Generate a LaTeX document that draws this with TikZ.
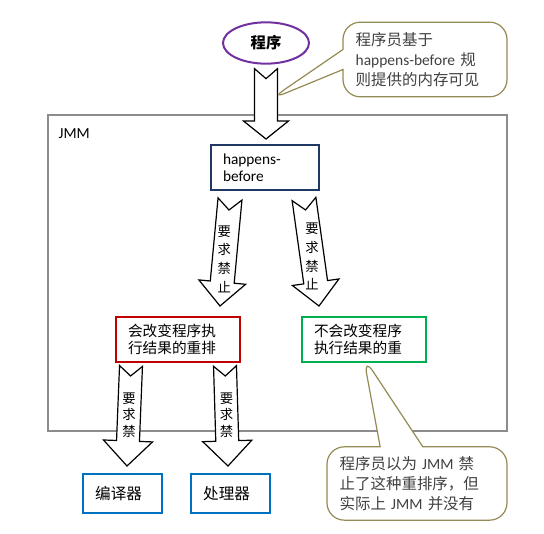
\documentclass[tikz,border=0pt]{standalone}
\usepackage{fontspec}
\setmainfont{Carlito}
\newfontfamily\cjk{Noto Sans CJK SC}
\usetikzlibrary{positioning,calc,shapes.geometric,shapes.callouts}

\definecolor{progpurple}{HTML}{7030A0}
\definecolor{noteolive}{HTML}{948A54}
\definecolor{notetext}{HTML}{404040}
\definecolor{framegray}{HTML}{8C8C8C}
\definecolor{hbnavy}{HTML}{1F3864}
\definecolor{boxred}{HTML}{C00000}
\definecolor{boxgreen}{HTML}{00B050}
\definecolor{boxblue}{HTML}{0070C0}

% fat white arrow with notched tail: from, to, half shaft, half head, head length, notch
\newcommand{\fatarrow}[6]{%
  \coordinate (fa-h) at ($(#2)!#5!(#1)$);
  \draw[fat] ($(#1)!#3!90:(#2)$) -- ($(#1)!#6!(#2)$) -- ($(#1)!#3!-90:(#2)$)
    -- ($(fa-h)!#3!-90:(#2)$) -- ($(fa-h)!#4!-90:(#2)$) -- (#2)
    -- ($(fa-h)!#4!90:(#2)$) -- ($(fa-h)!#3!90:(#2)$) -- cycle;
}

\begin{document}
\begin{tikzpicture}[x=0.75pt, y=-0.75pt,
    fat/.style={draw=black, fill=white, line width=0.9pt, line join=miter},
    fattext/.style={align=center, inner sep=0pt, font=\cjk\fontsize{10}{14}\selectfont},
    box/.style={draw, line width=1.5pt, align=left, inner xsep=9pt,
      minimum height=33.75pt, font=\cjk\fontsize{11}{13}\selectfont},
    note/.style={rectangle callout, draw=noteolive, fill=white, line width=0.9pt,
      rounded corners=13pt, align=left, text=notetext,
      font=\cjk\fontsize{11.6}{15}\selectfont}]
  \useasboundingbox (0,0) rectangle (544,534);

  % JMM frame
  \node[draw=framegray, line width=1.8pt, minimum width=344pt, minimum height=237pt] (jmm) at (277.5,273) {};
  \node[anchor=west, font=\fontsize{11.5}{13}\selectfont] (jmmlabel) at (54,134) {JMM};

  % program
  \node[ellipse, draw=progpurple, line width=1.5pt, minimum width=64.5pt, minimum height=31pt,
    font=\cjk\fontsize{11.5}{14}\selectfont\bfseries] (prog) at (266,43) {程序};

  % happens-before
  \node[box, draw=hbnavy, minimum width=81pt, text width=63pt,
    font=\fontsize{11.5}{12.5}\selectfont] (hb) at (265,167.5) {happens-\\before};

  % reorderings
  \node[box, draw=boxred, minimum width=93pt, text width=75pt] (chg) at (178,339.5)
    {会改变程序执\\行结果的重排};
  \node[box, draw=boxgreen, minimum width=93pt, text width=75pt] (nochg) at (364,339.5)
    {不会改变程序\\执行结果的重};

  % compiler / processor
  \node[box, draw=boxblue, minimum width=59.25pt, minimum height=29.25pt, text width=41pt,
    font=\cjk\fontsize{11.7}{13}\selectfont] (comp) at (122.5,493.5) {编译器};
  \node[box, draw=boxblue, minimum width=59.25pt, minimum height=29.25pt, text width=41pt,
    font=\cjk\fontsize{11.7}{13}\selectfont] (proc) at (230.5,493.5) {处理器};

  % arrows
  \coordinate (sA) at ($(prog.south)+(0,4)$);
  \coordinate (eA) at ($(hb.north)+(1,-5)$);
  \fatarrow{sA}{eA}{8.6pt}{16.9pt}{13.5pt}{7.5pt}

  \coordinate (sB) at ($(hb.south)+(-35,8)$);
  \coordinate (eB) at ($(chg.north)+(42,-10)$);
  \fatarrow{sB}{eB}{9pt}{17.6pt}{18pt}{8.3pt}
  \node[fattext] (tB) at ($(sB)!0.56!(eB)$) {要\\求\\禁\\止};

  \coordinate (sC) at ($(hb.south)+(39,8)$);
  \coordinate (eC) at ($(nochg.north)+(-45,-10)$);
  \fatarrow{sC}{eC}{9pt}{17.6pt}{18pt}{8.3pt}
  \node[fattext] (tC) at ($(sC)!0.54!(eC)$) {要\\求\\禁\\止};

  \coordinate (sD) at ($(chg.south)+(-47,3)$);
  \coordinate (eD) at ($(comp.north)+(4.5,-7)$);
  \fatarrow{sD}{eD}{8.6pt}{18.4pt}{18.8pt}{7.5pt}
  \node[fattext, font=\cjk\fontsize{10}{12.5}\selectfont] (tD) at ($(sD)!0.49!(eD)$) {要\\求\\禁};

  \coordinate (sE) at ($(chg.south)+(47,3)$);
  \coordinate (eE) at ($(proc.north)+(-2.5,-7)$);
  \fatarrow{sE}{eE}{8.6pt}{18.4pt}{18.8pt}{7.5pt}
  \node[fattext, font=\cjk\fontsize{10}{12.5}\selectfont] (tE) at ($(sE)!0.49!(eE)$) {要\\求\\禁};

  % notes
  \coordinate (tip1) at (270,99.5);
  \node[note, callout absolute pointer={(tip1)}, callout pointer width=15pt,
    minimum width=123pt, minimum height=56pt, text width=104pt] (note1) at (425,59.5)
    {程序员基于\\{\rmfamily happens-before} 规\\则提供的内存可见};

  \coordinate (tip2) at ($(nochg.south)+(-0.5,-6)$);
  \node[note, callout absolute pointer={(tip2)}, callout pointer width=32pt,
    minimum width=135pt, minimum height=55pt, text width=116pt] (note2) at (417,483.5)
    {程序员以为 {\rmfamily JMM} 禁\\止了这种重排序，但\\实际上 {\rmfamily JMM} 并没有};
\end{tikzpicture}
\end{document}
